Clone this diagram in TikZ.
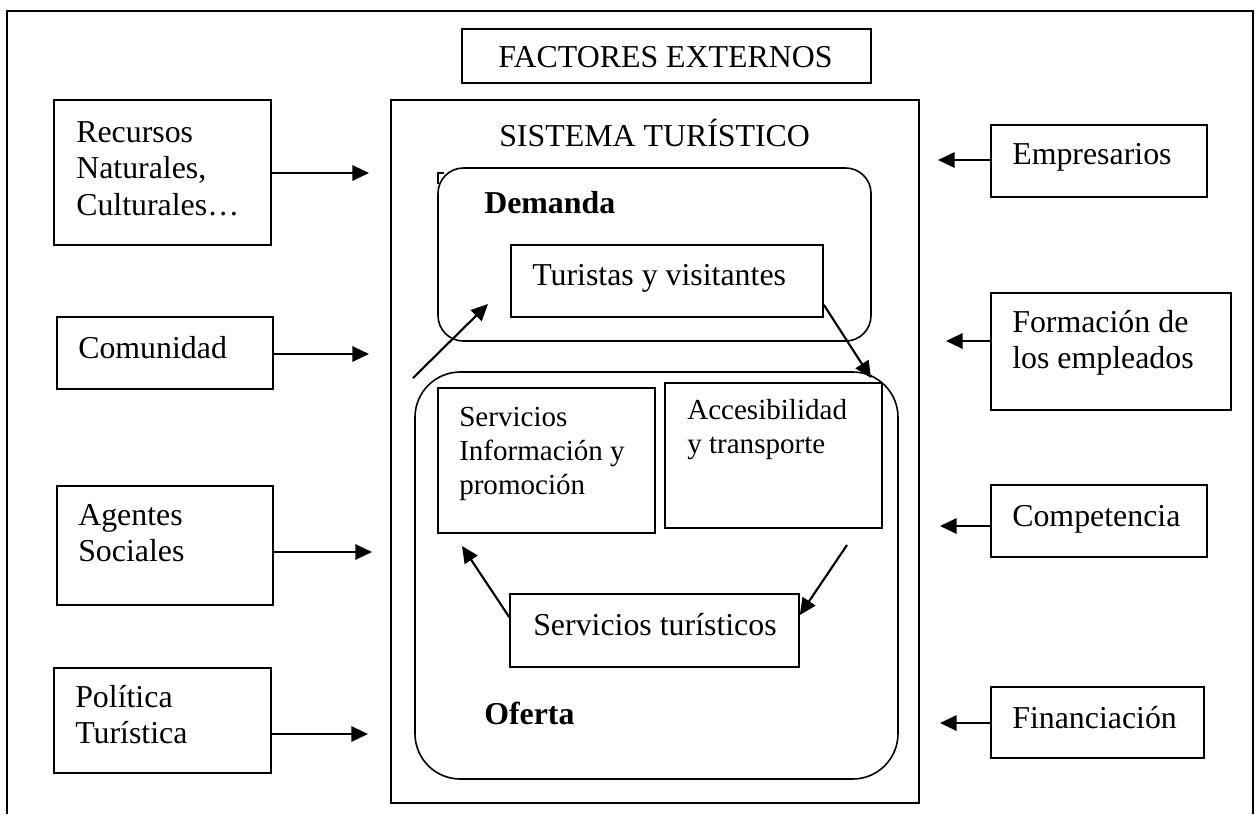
\documentclass[tikz,border=0pt]{standalone}
\usepackage{fontspec}
\setmainfont{Liberation Serif}
\usetikzlibrary{arrows.meta,fit}
\begin{document}
\begin{tikzpicture}[x=0.75pt,y=-0.75pt,
  box/.style={draw,line width=1.2pt,inner sep=0pt},
  txt/.style={anchor=base west,inner sep=0pt,font=\fontsize{23.9}{27.4}\selectfont},
  stxt/.style={anchor=base west,inner sep=0pt,font=\fontsize{21.8}{25.5}\selectfont},
  arr/.style={line width=1.6pt,-{Triangle[length=12.5pt,width=11.5pt]}}]
\useasboundingbox (0,0) rectangle (1255,814);
% outer frame (open at the bottom)
\draw[line width=1pt] (7,814) -- (7,11) -- (1253,11) -- (1253,814);

% title
\node[box,fit={(462,29) (871,83)}] (fe) {};
\node[txt] (fet) at (498,67) {FACTORES EXTERNOS};

% system
\node[box,fit={(391,100) (919,803)}] (sis) {};
\node[txt] (sist) at (499,146) {SISTEMA TURÍSTICO};

% demand
\node[box,rounded corners=19pt,fit={(438,168) (871,341)}] (dem) {};
\draw[line width=1.2pt] (438,184) -- (438,173) -- (444,173);
\node[txt,font=\fontsize{23.9}{27.4}\selectfont\bfseries] (demt) at (484,213) {Demanda};
\node[box,fit={(511,245) (823,317)}] (tur) {};
\node[txt] (turt) at (532,285) {Turistas y visitantes};

% offer
\node[box,rounded corners=34pt,fit={(415,372) (898,779)}] (ofe) {};
\node[box,fit={(438,388) (655,533)}] (inf) {};
\node[stxt] (inft) at (459,426) {\begin{tabular}[t]{@{}l@{}}Servicios\\Información y\\promoción\end{tabular}};
\node[box,fit={(665,383) (882,528)}] (acc) {};
\node[stxt] (acct) at (687,419) {\begin{tabular}[t]{@{}l@{}}Accesibilidad\\y transporte\end{tabular}};
\node[box,fit={(510,594) (799,667)}] (st) {};
\node[txt] (stt) at (533,635) {Servicios turísticos};
\node[txt,font=\fontsize{23.9}{27.4}\selectfont\bfseries] (ofet) at (484,724) {Oferta};

% left factors
\node[box,fit={(54,100) (271,245)}] (rec) {};
\node[txt] (rect) at (76,142) {\begin{tabular}[t]{@{}l@{}}Recursos\\Naturales,\\Culturales…\end{tabular}};
\node[box,fit={(57,317) (273,389)}] (com) {};
\node[txt] (comt) at (78,358) {Comunidad};
\node[box,fit={(57,486) (273,605)}] (agt) {};
\node[txt] (agtt) at (78,525) {\begin{tabular}[t]{@{}l@{}}Agentes\\Sociales\end{tabular}};
\node[box,fit={(54,668) (271,773)}] (pol) {};
\node[txt] (polt) at (75,707) {\begin{tabular}[t]{@{}l@{}}Política\\Turística\end{tabular}};

% right factors
\node[box,fit={(991,125) (1207,197)}] (emp) {};
\node[txt] (empt) at (1012,164) {Empresarios};
\node[box,fit={(991,293) (1231,410)}] (for) {};
\node[txt] (fort) at (1012,332) {\begin{tabular}[t]{@{}l@{}}Formación de\\los empleados\end{tabular}};
\node[box,fit={(991,485) (1207,557)}] (cmp) {};
\node[txt] (cmpt) at (1012,526) {Competencia};
\node[box,fit={(991,687) (1204,758)}] (fin) {};
\node[txt] (fint) at (1012,728) {Financiación};

% free arrow ends
\coordinate (l1) at (369,173);
\coordinate (l2) at (369,354);
\coordinate (l3) at (372,552);
\coordinate (l4) at (368,734);
\coordinate (r1) at (938,160);
\coordinate (r2) at (946,341);
\coordinate (r3) at (940,526);
\coordinate (r4) at (940,723);
\coordinate (d1s) at (413,378);
\coordinate (d1e) at (488,304);
\coordinate (d2e) at (871,378);
\coordinate (d3s) at (847,545);
\coordinate (d4e) at (462,546);

% arrows
\draw[arr] (rec.east |- l1) -- (l1);
\draw[arr] (com.east |- l2) -- (l2);
\draw[arr] (agt.east |- l3) -- (l3);
\draw[arr] (pol.east |- l4) -- (l4);
\draw[arr] (emp.west |- r1) -- (r1);
\draw[arr] (for.west |- r2) -- (r2);
\draw[arr] (cmp.west |- r3) -- (r3);
\draw[arr] (fin.west |- r4) -- (r4);
\draw[arr] (d1s) -- (d1e);
\draw[arr] ([yshift=9.75pt]tur.south east) -- (d2e);
\draw[arr] (d3s) -- ([yshift=11.6pt]st.east);
\draw[arr] ([yshift=10.1pt]st.west) -- (d4e);
\end{tikzpicture}
\end{document}
